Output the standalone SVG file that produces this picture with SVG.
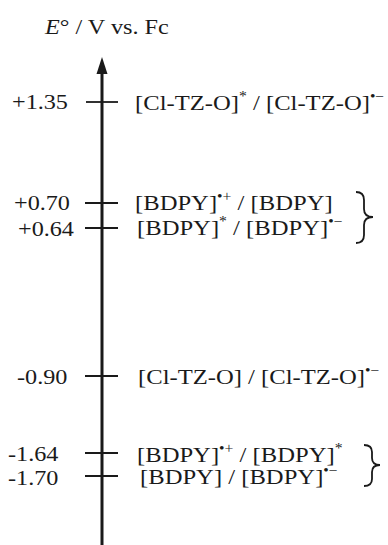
<svg xmlns="http://www.w3.org/2000/svg" width="388" height="545" viewBox="0 0 388 545">
<style>
text{font-family:"Liberation Serif","Times New Roman",serif;font-size:22px;fill:#1a1a1a}
.sup{font-size:14px}
.tick{stroke:#1a1a1a;stroke-width:1.8;fill:none}
.brace{stroke:#1a1a1a;stroke-width:1.8;fill:none}
</style>
<rect width="388" height="545" fill="#fff"/>
<g id="title"><text transform="translate(45,34) scale(1.1,1)"><tspan font-style="italic">E</tspan>° / V vs. Fc</text></g>
<g id="connectors">
<line x1="102" y1="545" x2="102" y2="70" stroke="#1a1a1a" stroke-width="3"/>
<polygon points="102,57 96.5,74 107.5,74" fill="#1a1a1a"/>
<line class="tick" x1="86" y1="102" x2="118" y2="102"/>
<line class="tick" x1="85" y1="203" x2="118" y2="203"/>
<line class="tick" x1="85" y1="228" x2="118" y2="228"/>
<line class="tick" x1="85" y1="376" x2="118" y2="376"/>
<line class="tick" x1="85" y1="453" x2="118" y2="453"/>
<line class="tick" x1="85" y1="476" x2="118" y2="476"/>
<path class="brace" d="M356,192 Q364,192 364,200 L364,209 Q364,217 373,217 Q364,217 364,225 L364,235 Q364,243 356,243"/>
<path class="brace" d="M364,445 Q372,445 372,452 L372,458 Q372,465 380,465 Q372,465 372,472 L372,479 Q372,486 364,486"/>
</g>
<g id="n135"><text transform="translate(12,109) scale(1.1,1)">+1.35</text><text transform="translate(135,110) scale(1.12,1)">[Cl-TZ-O]<tspan class="sup" dy="-9">*</tspan><tspan dy="9"> / [Cl-TZ-O]</tspan><tspan class="sup" dy="-9">•−</tspan></text></g>
<g id="n070"><text transform="translate(14,210) scale(1.1,1)">+0.70</text><text transform="translate(135,210) scale(1.12,1)">[BDPY]<tspan class="sup" dy="-9">•+</tspan><tspan dy="9"> / [BDPY]</tspan></text></g>
<g id="n064"><text transform="translate(18,236) scale(1.1,1)">+0.64</text><text transform="translate(137,235) scale(1.12,1)">[BDPY]<tspan class="sup" dy="-9">*</tspan><tspan dy="9"> / [BDPY]</tspan><tspan class="sup" dy="-9">•−</tspan></text></g>
<g id="n090"><text transform="translate(17,384) scale(1.1,1)">-0.90</text><text transform="translate(138,384) scale(1.12,1)">[Cl-TZ-O] / [Cl-TZ-O]<tspan class="sup" dy="-9">•−</tspan></text></g>
<g id="n164"><text transform="translate(8,461) scale(1.1,1)">-1.64</text><text transform="translate(137,462) scale(1.12,1)">[BDPY]<tspan class="sup" dy="-9">•+</tspan><tspan dy="9"> / [BDPY]</tspan><tspan class="sup" dy="-9">*</tspan></text></g>
<g id="n170"><text transform="translate(8,485) scale(1.1,1)">-1.70</text><text transform="translate(140,484) scale(1.12,1)">[BDPY] / [BDPY]<tspan class="sup" dy="-9">•−</tspan></text></g>
</svg>
